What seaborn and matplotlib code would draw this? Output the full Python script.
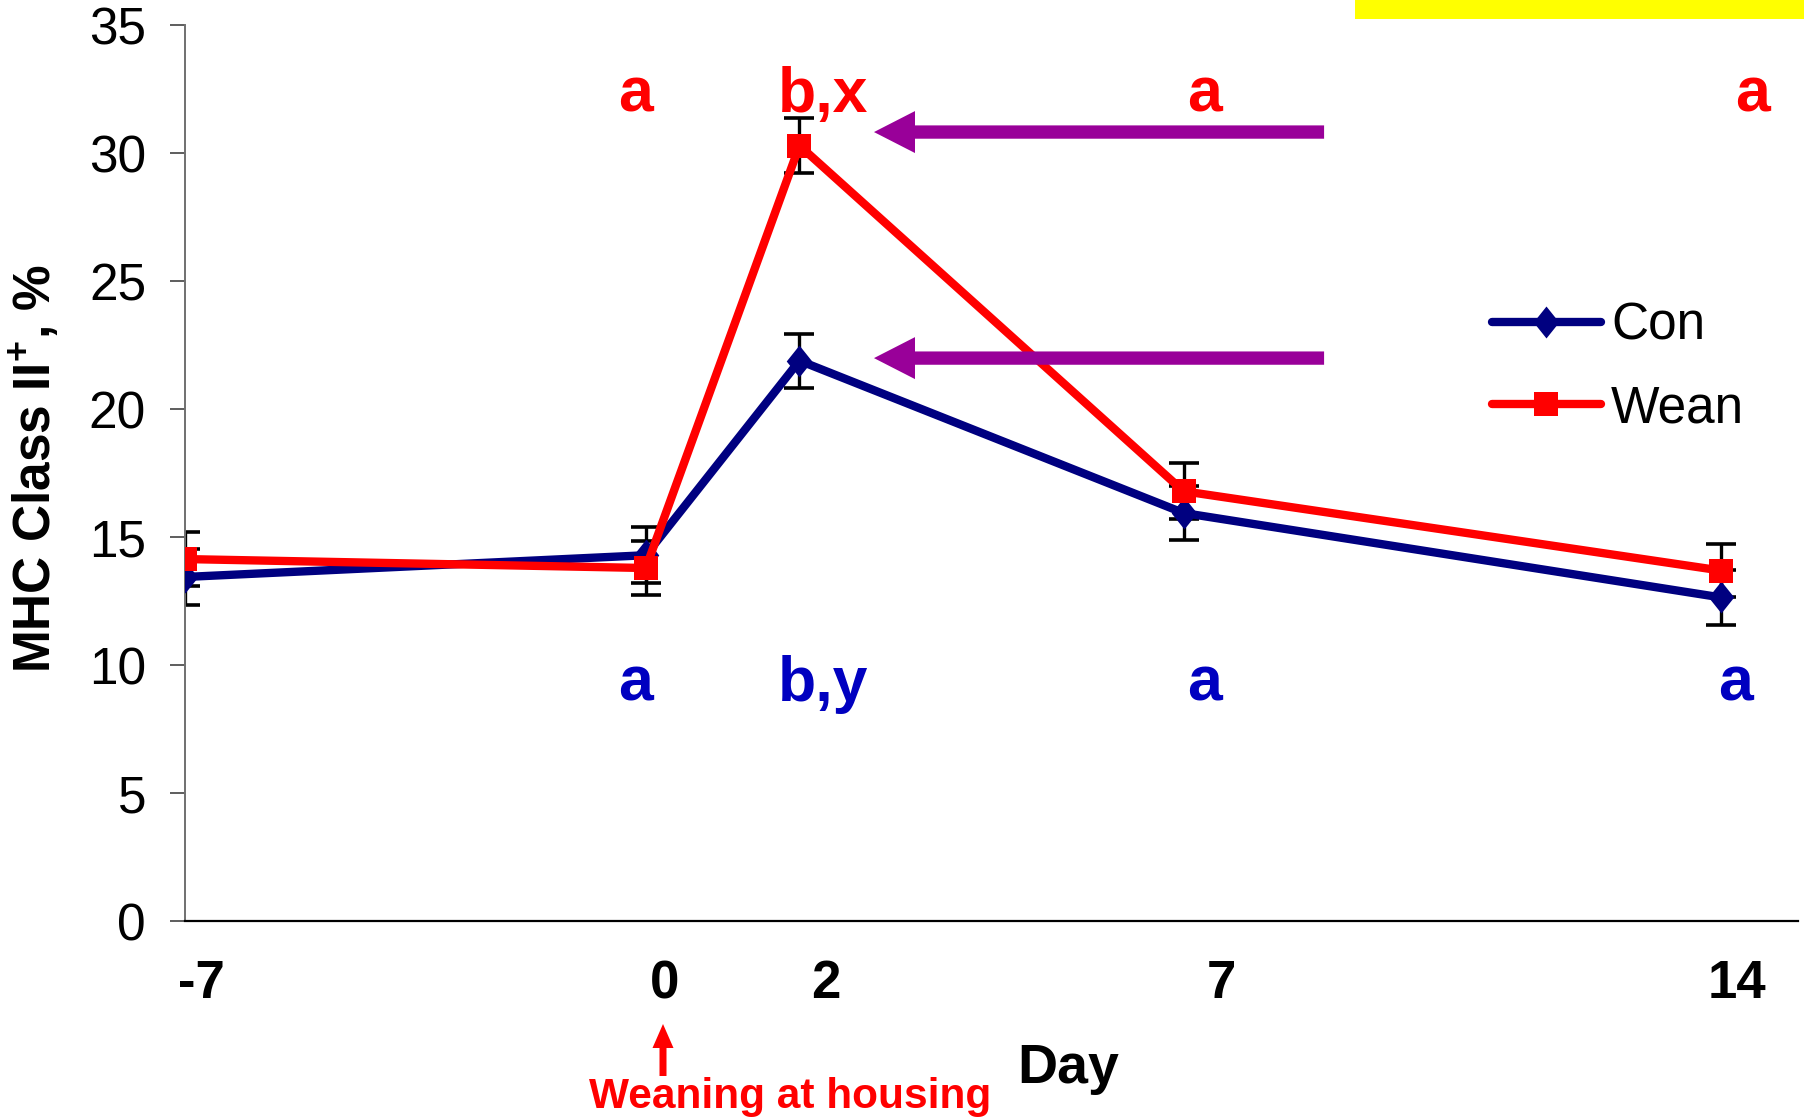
import numpy as np
import pandas as pd
import matplotlib
matplotlib.use("Agg")
import matplotlib.pyplot as plt
from matplotlib.patches import FancyArrow, Rectangle
import seaborn as sns

# ---- data -------------------------------------------------------------
day_labels = ["-7", "0", "2", "7", "14"]
day_pos = [-6, 0, 2, 7, 14]          # plotting position of each sampling day

con_mean = [13.45, 14.3, 21.9, 15.95, 12.65]
con_se = [1.1, 1.1, 1.05, 1.05, 1.07]
wean_mean = [14.15, 13.8, 30.3, 16.8, 13.7]
wean_se = [1.05, 1.05, 1.08, 1.1, 1.05]

wean_letters = ["", "a", "b,x", "a", "a"]
con_letters = ["", "a", "b,y", "a", "a"]

# ---- style ------------------------------------------------------------
sns.set_style("ticks")
plt.rcParams["font.family"] = ["Liberation Sans", "DejaVu Sans"]
plt.rcParams["mathtext.fontset"] = "custom"
plt.rcParams["mathtext.rm"] = "Liberation Sans"
plt.rcParams["mathtext.bf"] = "Liberation Sans:bold"
for key in ("text.color", "axes.labelcolor", "xtick.color", "ytick.color"):
    plt.rcParams[key] = "black"

CON_C = "#000080"
WEAN_C = "#FF0000"
LET_BLUE = "#0000C0"
PURPLE = "#990099"

W, H = 1804, 1118
fig = plt.figure(figsize=(W / 100, H / 100), dpi=100)
ax = fig.add_axes([185 / W, 1 - 921.3 / H, (1798 - 185) / W, (921.3 - 25.3) / H])

df = pd.DataFrame({"pos": day_pos, "con": con_mean, "wean": wean_mean})

diamond = [(0, 1), (0.8, 0), (0, -1), (-0.8, 0), (0, 1)]

# error bars underneath the lines
ax.errorbar(day_pos, con_mean, yerr=con_se, fmt="none", ecolor="black",
            elinewidth=2.4, capsize=11, capthick=2.6, zorder=1.5)
ax.errorbar(day_pos, wean_mean, yerr=wean_se, fmt="none", ecolor="black",
            elinewidth=2.4, capsize=11, capthick=2.6, zorder=1.5)

sns.lineplot(data=df, x="pos", y="con", ax=ax, color=CON_C, lw=6,
             marker=diamond, markersize=23, markeredgewidth=0,
             label="Con", zorder=3)
sns.lineplot(data=df, x="pos", y="wean", ax=ax, color=WEAN_C, lw=6,
             marker="s", markersize=17.5, markeredgewidth=0,
             label="Wean", zorder=4)

ax.set_xlim(-6, 15)
ax.set_ylim(0, 35)
ax.set_yticks(np.arange(0, 36, 5))
ax.set_xticks([])
ax.set_xlabel("")
ax.set_ylabel("")
sns.despine(ax=ax)
ax.spines["left"].set_color("#707070")
ax.spines["left"].set_linewidth(1.4)
ax.spines["bottom"].set_color("black")
ax.spines["bottom"].set_linewidth(1.6)
ax.tick_params(axis="y", length=11, width=1.3, color="#505050",
               labelcolor="black", labelsize=37, pad=17)

# day labels sitting under the axis
xlabel_dx = [16, 19, 26, 38, 16]
for pos, lab, dx in zip(day_pos, day_labels, xlabel_dx):
    ax.annotate(lab, xy=(pos, 0), xycoords="data", xytext=(dx, -63),
                textcoords="offset pixels", ha="center", va="center",
                fontsize=38, fontweight="bold", color="black")

# significance letters
wean_dx = [0, -10, 24, 21, 31]
con_dx = [0, -10, 24, 21, 14]
for pos, lab, dx in zip(day_pos, wean_letters, wean_dx):
    if lab:
        ax.annotate(lab, xy=(pos, 31.63), xytext=(dx, 0),
                    textcoords="offset pixels", ha="center", va="baseline",
                    fontsize=45, fontweight="bold", color=WEAN_C)
for pos, lab, dx in zip(day_pos, con_letters, con_dx):
    if lab:
        ax.annotate(lab, xy=(pos, 8.62), xytext=(dx, 0),
                    textcoords="offset pixels", ha="center", va="baseline",
                    fontsize=45, fontweight="bold", color=LET_BLUE)

# purple arrows pointing at the day-2 peaks
for y in (30.83, 22.0):
    ax.add_patch(FancyArrow(8.83, y, 2.97 - 8.83, 0, width=0.52,
                            head_width=1.64, head_length=0.534,
                            length_includes_head=True, color=PURPLE,
                            lw=0, zorder=5, clip_on=False))

# legend
ax.legend(loc="upper left", bbox_to_anchor=(1492 / W, 1 - 302 / H),
          bbox_transform=fig.transFigure, frameon=False, fontsize=37,
          handlelength=2.12, handletextpad=0.2, labelspacing=0.65,
          borderpad=0, borderaxespad=0, labelcolor="black")

# axis titles
fig.text(35 / W, 1 - 469 / H, r"MHC Class II$^{\mathbf{+}}$, %", rotation=90,
         ha="center", va="center", fontsize=37, fontweight="bold",
         color="black")
fig.text(1068 / W, 1 - 1069 / H, "Day", ha="center", va="center",
         fontsize=40, fontweight="bold", color="black")

# weaning marker below the axis
fig.text(790 / W, 1 - 1097 / H, "Weaning at housing", ha="center",
         va="center", fontsize=30.5, fontweight="bold", color=WEAN_C)
fig.patches.append(FancyArrow(663 / W, 1 - 1076 / H, 0, (1076 - 1024) / H,
                              width=7 / W, head_width=21 / W,
                              head_length=24 / H, length_includes_head=True,
                              color=WEAN_C, lw=0, transform=fig.transFigure,
                              figure=fig))

# highlight bar at the top right
fig.patches.append(Rectangle((1355 / W, 1 - 19 / H), (W - 1355) / W, 19 / H,
                             facecolor="#FFFF00", edgecolor="none",
                             transform=fig.transFigure, figure=fig))

fig.savefig("out.png", dpi=100)
